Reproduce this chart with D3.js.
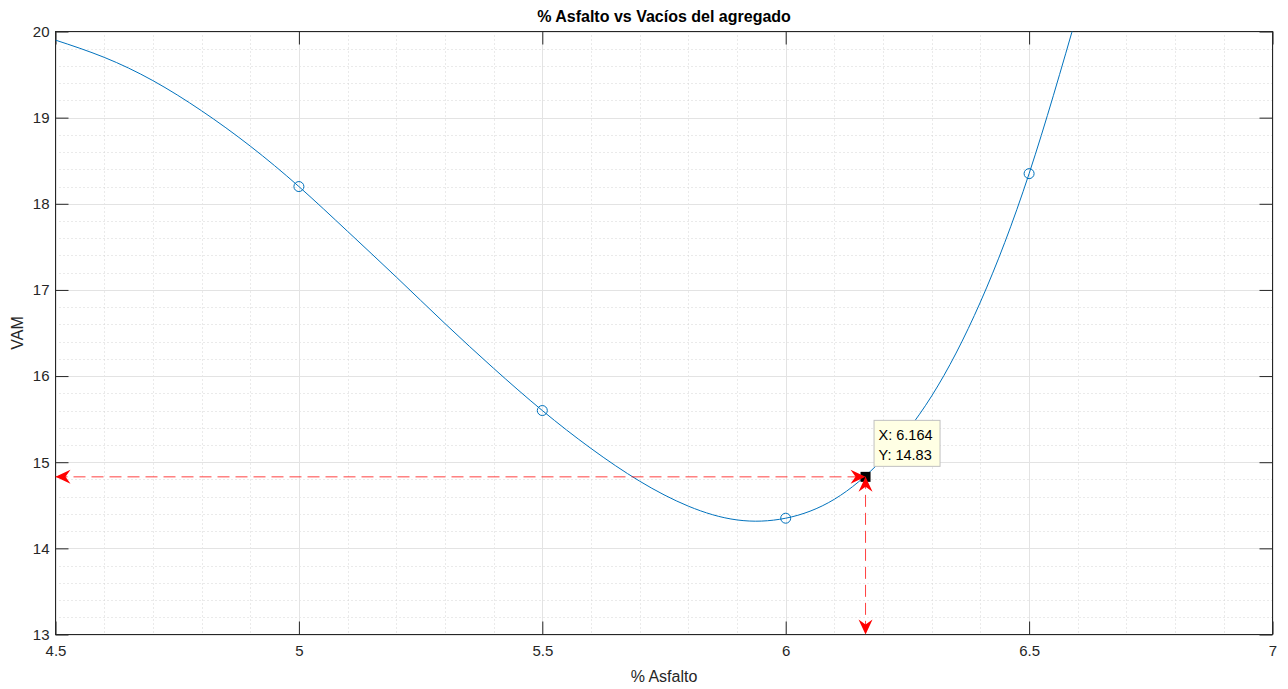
<!DOCTYPE html>
<html>
<head>
    <title>% Asfalto vs Vacios del agregado</title>
    <script src="https://cdn.jsdelivr.net/npm/d3@7"></script>
    <style>
    body { margin:0; background:#fff; }
    svg { font-family: "Liberation Sans", Arial, sans-serif; }
    </style>
</head>
<body>
<script type="text/javascript">

// measured points
const asfalto = [5, 5.5, 6, 6.5];
const vam = [18.2, 15.6, 14.35, 18.35];

// fitted curve, every 0.1
const curveX = [4.5, 4.6, 4.7, 4.8, 4.9, 5.0, 5.1, 5.2, 5.3, 5.4, 5.5, 5.6, 5.7, 5.8, 5.9, 6.0, 6.1, 6.2, 6.3, 6.4, 6.5, 6.6];
const curveY = [19.90, 19.70, 19.43, 19.08, 18.67, 18.2, 17.68, 17.15, 16.61, 16.09, 15.6, 15.16, 14.78, 14.49, 14.33, 14.35, 14.57, 15.04, 15.77, 16.86, 18.35, 20.23];

// data tip
const tipX = 6.164;
const tipY = 14.83;

const xTicks = [4.5, 5, 5.5, 6, 6.5, 7];
const yTicks = [13, 14, 15, 16, 17, 18, 19, 20];

const W = 1288, H = 689;
const pL = 55.5, pR = 1272.5, pT = 31.5, pB = 634.5;

const svg = d3.select("body").append("svg")
    .attr("width", W).attr("height", H);

const x = d3.scaleLinear().domain([4.5, 7]).range([pL, pR]);
const y = d3.scaleLinear().domain([13, 20]).range([pB, pT]);

const blue = "#0072BD";

const defs = svg.append("defs");
defs.append("clipPath").attr("id", "plotClip")
    .append("rect").attr("x", pL).attr("y", pT)
    .attr("width", pR - pL).attr("height", pB - pT);

// minor grid
const grid = svg.append("g");
const minorX = d3.range(45, 71).map(d => d / 10).filter(d => !xTicks.some(t => Math.abs(t - d) < 1e-9));
const minorY = d3.range(65, 101).map(d => d / 5).filter(d => !yTicks.some(t => Math.abs(t - d) < 1e-9));
grid.selectAll(".mx").data(minorX).join("line")
    .attr("x1", d => Math.round(x(d)) + 0.5).attr("x2", d => Math.round(x(d)) + 0.5)
    .attr("y1", pT).attr("y2", pB)
    .attr("stroke", "#d4d4d4").attr("stroke-dasharray", "1,3");
grid.selectAll(".my").data(minorY).join("line")
    .attr("y1", d => Math.round(y(d)) + 0.5).attr("y2", d => Math.round(y(d)) + 0.5)
    .attr("x1", pL).attr("x2", pR)
    .attr("stroke", "#d4d4d4").attr("stroke-dasharray", "1,3");

// major grid
grid.selectAll(".gx").data(xTicks).join("line")
    .attr("x1", d => Math.round(x(d)) + 0.5).attr("x2", d => Math.round(x(d)) + 0.5)
    .attr("y1", pT).attr("y2", pB)
    .attr("stroke", "#e3e3e3");
grid.selectAll(".gy").data(yTicks).join("line")
    .attr("y1", d => Math.round(y(d)) + 0.5).attr("y2", d => Math.round(y(d)) + 0.5)
    .attr("x1", pL).attr("x2", pR)
    .attr("stroke", "#e3e3e3");

// axes, ticks inward
const tickLen = 13;
const xAxisB = d3.axisBottom(x).tickValues(xTicks).tickFormat(d3.format("")).tickSize(-tickLen).tickPadding(11);
const xAxisT = d3.axisTop(x).tickValues(xTicks).tickFormat("").tickSize(-tickLen);
const yAxisL = d3.axisLeft(y).tickValues(yTicks).tickFormat(d3.format("")).tickSize(-tickLen).tickPadding(6);
const yAxisR = d3.axisRight(y).tickValues(yTicks).tickFormat("").tickSize(-tickLen);

function styleAxis(g) {
    g.select(".domain").remove();
    g.selectAll(".tick line").attr("stroke", "#262626");
    g.selectAll(".tick text")
        .attr("fill", "#262626")
        .attr("font-size", 15)
        .attr("font-family", "Liberation Sans, Arial, sans-serif");
}
svg.append("g").attr("transform", `translate(0,${pB})`).call(xAxisB).call(styleAxis);
svg.append("g").attr("transform", `translate(0,${pT})`).call(xAxisT).call(styleAxis);
svg.append("g").attr("transform", `translate(${pL},0)`).call(yAxisL).call(styleAxis);
svg.append("g").attr("transform", `translate(${pR},0)`).call(yAxisR).call(styleAxis);

svg.append("rect")
    .attr("x", pL).attr("y", pT)
    .attr("width", pR - pL).attr("height", pB - pT)
    .attr("fill", "none").attr("stroke", "#262626");

// curve
const pts = curveX.map((d, i) => [d, curveY[i]]);
const line = d3.line().x(d => x(d[0])).y(d => y(d[1])).curve(d3.curveNatural);
svg.append("path").datum(pts)
    .attr("clip-path", "url(#plotClip)")
    .attr("d", line)
    .attr("fill", "none").attr("stroke", blue).attr("stroke-width", 1);

// markers
svg.selectAll(".pt").data(asfalto).join("circle")
    .attr("cx", d => x(d)).attr("cy", (d, i) => y(vam[i]))
    .attr("r", 5)
    .attr("fill", "none").attr("stroke", blue).attr("stroke-width", 1);

// data tip square
const tx = x(tipX), ty = y(tipY);
svg.append("rect")
    .attr("x", tx - 5).attr("y", ty - 5).attr("width", 10).attr("height", 10)
    .attr("fill", "#000");

// red double arrows
defs.append("marker").attr("id", "arr")
    .attr("viewBox", "-16 -8 17 16")
    .attr("markerUnits", "userSpaceOnUse")
    .attr("markerWidth", 17).attr("markerHeight", 16)
    .attr("refX", 0).attr("refY", 0)
    .attr("orient", "auto")
    .append("path")
    .attr("d", "M0,0 L-15,-7 L-10,0 L-15,7 Z")
    .attr("fill", "#ff0000");

const arrows = svg.append("g");
arrows.append("line")
    .attr("x1", pL).attr("y1", ty).attr("x2", tx).attr("y2", ty)
    .attr("stroke", "#ff0000").attr("stroke-opacity", 0.75)
    .attr("stroke-dasharray", "12,6");
arrows.append("line")
    .attr("x1", tx).attr("y1", ty).attr("x2", tx).attr("y2", pB)
    .attr("stroke", "#ff0000").attr("stroke-opacity", 0.75)
    .attr("stroke-dasharray", "12,6");
// heads
const heads = [
    [[tx - 20, ty], [pL, ty]],
    [[pL + 20, ty], [tx, ty]],
    [[tx, ty + 20], [tx, pB]],
    [[tx, pB - 20], [tx, ty]]
];
arrows.selectAll(".head").data(heads).join("path")
    .attr("d", d => `M${d[0][0]},${d[0][1]}L${d[1][0]},${d[1][1]}`)
    .attr("fill", "none").attr("stroke", "none")
    .attr("marker-end", "url(#arr)");

// data tip box
const tip = svg.append("g").attr("transform", `translate(${tx + 8},${ty - 57})`);
tip.append("rect")
    .attr("x", 0.5).attr("y", 0.5).attr("width", 66).attr("height", 46)
    .attr("fill", "#ffffe4").attr("stroke", "#c0c0c0");
tip.append("text").attr("x", 5).attr("y", 20).attr("font-size", 14.5).attr("fill", "#000")
    .text("X: " + tipX);
tip.append("text").attr("x", 5).attr("y", 40).attr("font-size", 14.5).attr("fill", "#000")
    .text("Y: " + tipY);

// titles
svg.append("text")
    .attr("x", (pL + pR) / 2).attr("y", 22)
    .attr("text-anchor", "middle").attr("font-weight", "bold").attr("font-size", 16)
    .attr("fill", "#000")
    .text("% Asfalto vs Vacíos del agregado");
svg.append("text")
    .attr("x", (pL + pR) / 2).attr("y", 682)
    .attr("text-anchor", "middle").attr("font-size", 16).attr("fill", "#262626")
    .text("% Asfalto");
svg.append("text")
    .attr("transform", `translate(23,${(pT + pB) / 2}) rotate(-90)`)
    .attr("text-anchor", "middle").attr("font-size", 16).attr("fill", "#262626")
    .text("VAM");

</script>
</body>
</html>
